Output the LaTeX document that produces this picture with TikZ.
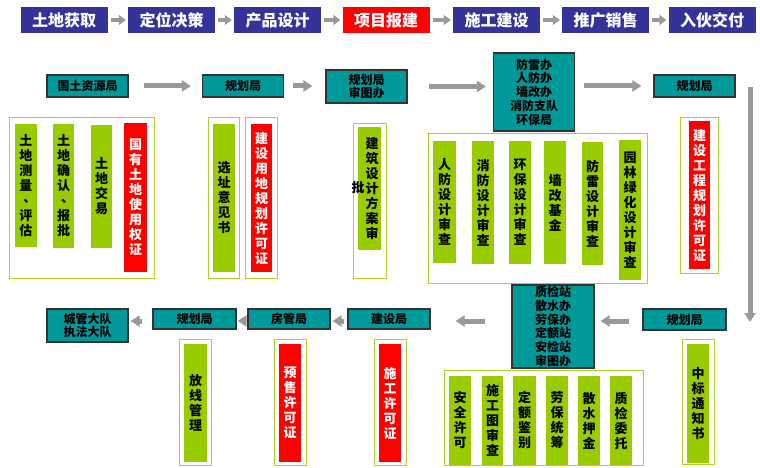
\documentclass[tikz,border=0pt]{standalone}
\usepackage{fontspec}
\setmainfont{Noto Sans CJK SC}
\usetikzlibrary{arrows.meta}
\definecolor{navyblue}{HTML}{333399}
\definecolor{tealbox}{HTML}{009999}
\definecolor{bargreen}{HTML}{99CC00}
\definecolor{grpgreen}{HTML}{A8D42C}
\definecolor{arrowgray}{HTML}{999999}
\newcommand{\dunhao}{\makebox[13pt][l]{\hspace{4pt}\raisebox{3pt}{、}}}

\begin{document}
\begin{tikzpicture}[x=1pt,y=-1pt,
    stage/.style={fill=navyblue,text=white,font=\fontsize{16}{18}\selectfont\bfseries,
        minimum width=87pt,minimum height=26pt,inner sep=0pt},
    office/.style={fill=tealbox,draw=black!80,line width=1.2pt,
        font=\fontsize{12}{13.7}\selectfont\bfseries,align=center,minimum width=81pt,inner sep=0pt},
    bar/.style={fill=bargreen,font=\fontsize{13}{15}\selectfont\bfseries,align=center,
        minimum width=22pt,inner sep=0pt},
    redbar/.style={bar,fill=red,text=white},
    group/.style={draw=grpgreen,line width=1pt},
    stagearrow/.style={draw=arrowgray,line width=4pt,-{Triangle[width=10pt,length=7pt]},
        shorten <=3pt,shorten >=2pt},
    flow/.style={draw=arrowgray,line width=5pt,-{Triangle[width=11pt,length=9pt]}}]
    \useasboundingbox (0,0) rectangle (760,468);

    % Stages
    \node[stage] (land) at (64,20) {土地获取};
    \node[stage] (position) at (171.5,20) {定位决策};
    \node[stage] (design) at (277.5,20) {产品设计};
    \node[stage,fill=red] (apply) at (386,20) {项目报建};
    \node[stage] (build) at (496.5,20) {施工建设};
    \node[stage] (sales) at (605.5,20) {推广销售};
    \node[stage] (deliver) at (712,20) {入伙交付};
    \draw[stagearrow] (land) -- (position);
    \draw[stagearrow] (position) -- (design);
    \draw[stagearrow] (design) -- (apply);
    \draw[stagearrow] (apply) -- (build);
    \draw[stagearrow] (build) -- (sales);
    \draw[stagearrow] (sales) -- (deliver);

    % Offices, upper row
    \node[office,minimum height=22pt] (landbureau) at (87.5,86) {国土资源局};
    \node[office,minimum height=22pt] (plan1) at (243,86) {规划局};
    \node[office,minimum height=33pt] (plan2) at (366.5,86.5) {规划局\\审图办};
    \node[office,minimum height=78pt] (depts) at (534,92) {防雷办\\人防办\\墙改办\\消防支队\\环保局};
    \node[office,minimum height=22pt] (plan3) at (694.5,86) {规划局};
    \draw[flow,shorten <=15pt,shorten >=11pt] (landbureau) -- (plan1);
    \draw[flow,shorten <=9pt,shorten >=13pt] (plan1) -- (plan1 -| plan2.west);
    \draw[flow,shorten <=21pt,shorten >=7pt] (plan2.east) -- (plan2.east -| depts.west);
    \draw[flow,shorten <=9pt,shorten >=12pt] (plan3.west -| depts.east) -- (plan3.west);
    \coordinate (turn) at (750,87);
    \coordinate (turnend) at (750,322);
    \draw[flow] (turn) -- (turnend);

    % Land acquisition
    \draw[group] (9,118) rectangle (154,278);
    \node[bar,minimum height=123pt] (survey) at (26,185.5) {土\\地\\测\\量\\\dunhao\\评\\估};
    \node[bar,minimum height=124pt,minimum width=21pt] (confirm) at (63.5,186) {土\\地\\确\\认\\\dunhao\\报\\批};
    \node[bar,minimum height=123pt,minimum width=21pt] (trade) at (101.5,186.5) {土\\地\\交\\易};
    \node[redbar,minimum height=149pt,minimum width=23pt] (landcert) at (135.5,197.5) {国\\有\\土\\地\\使\\用\\权\\证};

    % Site and land-use permits
    \draw[group] (208,118) rectangle (239,278);
    \node[bar,minimum height=148pt] (siteopinion) at (224,198) {选\\址\\意\\见\\书};
    \draw[group] (245,118) rectangle (277,278);
    \node[redbar,minimum height=148pt,minimum width=21pt] (landpermit) at (261.5,198) {建\\设\\用\\地\\规\\划\\许\\可\\证};

    % Scheme approval
    \draw[group] (353,124) rectangle (386,278);
    \node[bar,minimum height=123pt,minimum width=23pt] (scheme) at (369.5,188.5) {\hspace{5pt}建\\\hspace{5pt}筑\\\hspace{5pt}设\\\hspace{5pt}计\\\hspace{5pt}方\\\hspace{5pt}案\\\hspace{5pt}审};
    \node[font=\fontsize{13}{15}\selectfont\bfseries,inner sep=0pt] (schemepi) at (358,188) {批};

    % Design reviews
    \draw[group] (428,134) rectangle (647,283);
    \node[bar,minimum height=122pt,minimum width=23pt] (civil) at (444.5,202) {人\\防\\设\\计\\审\\查};
    \node[bar,minimum height=123pt] (fire) at (483,202.5) {消\\防\\设\\计\\审\\查};
    \node[bar,minimum height=123pt] (envir) at (520,202.5) {环\\保\\设\\计\\审\\查};
    \node[bar,minimum height=123pt] (wall) at (555,202.5) {墙\\改\\基\\金};
    \node[bar,minimum height=123pt,minimum width=21pt] (lightning) at (592.5,203.5) {防\\雷\\设\\计\\审\\查};
    \node[bar,minimum height=140pt] (garden) at (630,210) {园\\林\\绿\\化\\设\\计\\审\\查};

    % Works planning permit
    \draw[group] (680,118) rectangle (718,273);
    \node[redbar,minimum height=148pt,minimum width=21pt] (workpermit) at (699.5,195) {建\\设\\工\\程\\规\\划\\许\\可\\证};

    % Offices, lower row
    \node[office,minimum height=21pt,minimum width=83pt] (plan4) at (684.5,319.5) {规划局};
    \node[office,minimum height=83pt,minimum width=82pt] (stations) at (553,326.5) {质检站\\散水办\\劳保办\\定额站\\安检站\\审图办};
    \node[office,minimum height=20pt,minimum width=82pt] (construct) at (389,319) {建设局};
    \node[office,minimum height=20pt,minimum width=82pt] (housing) at (289,319) {房管局};
    \node[office,minimum height=20pt,minimum width=83pt] (plan5) at (194.5,319) {规划局};
    \node[office,minimum height=33pt] (urban) at (87.5,325.5) {城管大队\\执法大队};
    \draw[flow,shorten <=13pt,shorten >=6pt] ([yshift=-1.5pt]plan4.west) -- ([yshift=-1.5pt]plan4.west -| stations.east);
    \draw[flow,shorten <=26pt,shorten >=25pt] ([yshift=-2pt]construct.east -| stations.west) -- ([yshift=-2pt]construct.east);
    \draw[flow,shorten <=3pt,shorten >=2pt] ([yshift=-2pt]construct.west) -- ([yshift=-2pt]housing.east);
    \draw[flow,shorten <=3pt,shorten >=1pt] ([yshift=-2pt]housing.west) -- ([yshift=-2pt]plan5.east);
    \draw[flow,shorten <=10pt,shorten >=2pt] ([yshift=-2pt]plan5.west) -- ([yshift=-2pt]plan5.west -| urban.east);

    % Bid notice
    \draw[group] (682,339) rectangle (714,464);
    \node[bar,minimum height=119pt] (bidnotice) at (698,403.5) {中\\标\\通\\知\\书};

    % Construction approvals
    \draw[group] (444,370) rectangle (643,465);
    \node[bar,minimum height=89pt] (safety) at (460,420.5) {安\\全\\许\\可};
    \node[bar,minimum height=89pt,minimum width=21pt] (drawings) at (492.5,420.5) {施\\工\\图\\审\\查};
    \node[bar,minimum height=89pt,minimum width=23pt] (quota) at (524.5,420.5) {定\\额\\鉴\\别};
    \node[bar,minimum height=89pt] (labour) at (557,420.5) {劳\\保\\统\\筹};
    \node[bar,minimum height=89pt] (scatter) at (589,420.5) {散\\水\\押\\金};
    \node[bar,minimum height=89pt] (quality) at (621,420.5) {质\\检\\委\\托};

    % Permits at the lower offices
    \draw[group] (374,339) rectangle (406,465);
    \node[redbar,minimum height=118pt] (buildpermit) at (390,403) {施\\工\\许\\可\\证};
    \draw[group] (274,339) rectangle (306,465);
    \node[redbar,minimum height=118pt] (presale) at (290,403) {预\\售\\许\\可\\证};
    \draw[group] (179,339) rectangle (211,465);
    \node[bar,minimum height=118pt,minimum width=23pt] (setout) at (195.5,403) {放\\线\\管\\理};
\end{tikzpicture}
\end{document}
